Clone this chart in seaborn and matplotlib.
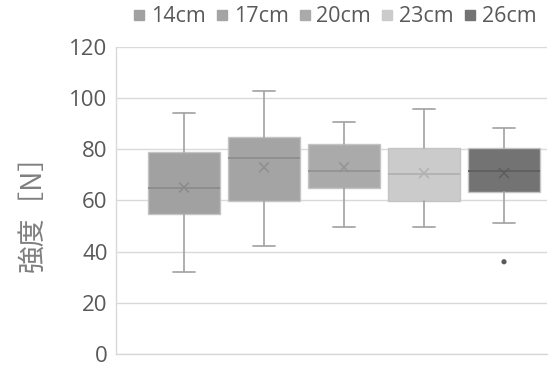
import numpy as np
import matplotlib
matplotlib.use("Agg")
import matplotlib.pyplot as plt
from matplotlib.lines import Line2D
import seaborn as sns

# Pull-out strength by spacing: five-number summaries, means and outliers
groups = ["14cm", "17cm", "20cm", "23cm", "26cm"]
whisker_low = [32.0, 42.2, 49.7, 49.7, 51.1]
q1 = [54.5, 59.8, 64.7, 59.9, 63.4]
median = [64.9, 76.5, 71.4, 70.2, 71.4]
q3 = [78.7, 84.9, 81.9, 80.3, 80.5]
whisker_high = [94.2, 102.8, 90.6, 95.5, 88.2]
means = [65.0, 72.9, 72.9, 70.6, 70.6]
outliers = [[], [], [], [], [36.0]]
y_ticks = [0, 20, 40, 60, 80, 100, 120]

fill_colors = ["#a1a1a1", "#a4a4a4", "#aaaaaa", "#cbcbcb", "#737373"]
mark_colors = ["#8b8b8b", "#8e8e8e", "#939393", "#b1b1b1", "#5e5e5e"]

sns.set_theme(style="white")
plt.rcParams["font.family"] = ["Open Sans", "Noto Sans CJK JP", "DejaVu Sans"]

fig = plt.figure(figsize=(5.49, 3.69), dpi=100)
ax = fig.add_axes([116 / 549, 15 / 369, 431 / 549, 307.4 / 369])

positions = np.arange(len(groups))
stats = [
    dict(label=g, whislo=lo, q1=a, med=m, q3=b, whishi=hi, fliers=[])
    for g, lo, a, m, b, hi in zip(groups, whisker_low, q1, median, q3, whisker_high)
]
art = ax.bxp(
    stats, positions=positions, widths=0.9, capwidths=0.27,
    patch_artist=True, showfliers=False,
    boxprops=dict(edgecolor="#c4c4c4", linewidth=1.0),
    whiskerprops=dict(color="#a8a8a8", linewidth=1.3),
    capprops=dict(color="#a8a8a8", linewidth=1.3),
    medianprops=dict(linewidth=1.3),
    zorder=3,
)
for box, med_line, fc, mc in zip(art["boxes"], art["medians"], fill_colors, mark_colors):
    box.set_facecolor(fc)
    med_line.set_color(mc)

# mean markers
sns.scatterplot(x=positions, y=means, hue=groups, palette=dict(zip(groups, mark_colors)),
                marker="x", s=50, linewidth=1.1, legend=False, ax=ax, zorder=4)

# outliers
out_x = [p for p, vals in zip(positions, outliers) for _ in vals]
out_y = [v for vals in outliers for v in vals]
sns.scatterplot(x=out_x, y=out_y, color="#5a5a5a", s=14, edgecolor="none", ax=ax, zorder=4)

ax.set_xlim(-0.85, 4.5375)
ax.set_ylim(0, 120)
ax.set_xticks([])
ax.set_yticks(y_ticks)
ax.yaxis.grid(True, color="#d9d9d9", linewidth=1.0)
ax.set_axisbelow(True)
ax.tick_params(axis="y", labelsize=16, labelcolor="#595959", length=0, pad=6)
for side in ("top", "right"):
    ax.spines[side].set_visible(False)
for side in ("left", "bottom"):
    ax.spines[side].set_color("#d9d9d9")
    ax.spines[side].set_linewidth(1.0)

fig.text(33 / 549, 1 - 206 / 369, "強度［N］", rotation=90, ha="center", va="center",
         fontsize=20, color="#7f7f7f", family=["Noto Sans CJK JP", "DejaVu Sans"])

handles = [Line2D([0], [0], marker="s", linestyle="", markersize=7,
                  markerfacecolor=c, markeredgecolor=c) for c in fill_colors]
fig.legend(handles, groups, loc="center", bbox_to_anchor=(335 / 549, 1 - 17 / 369),
           ncol=5, frameon=False, fontsize=15.5, handlelength=0.5, handletextpad=0.3,
           columnspacing=0.5, labelcolor="#595959", borderpad=0)

fig.savefig("out.png", dpi=100)
